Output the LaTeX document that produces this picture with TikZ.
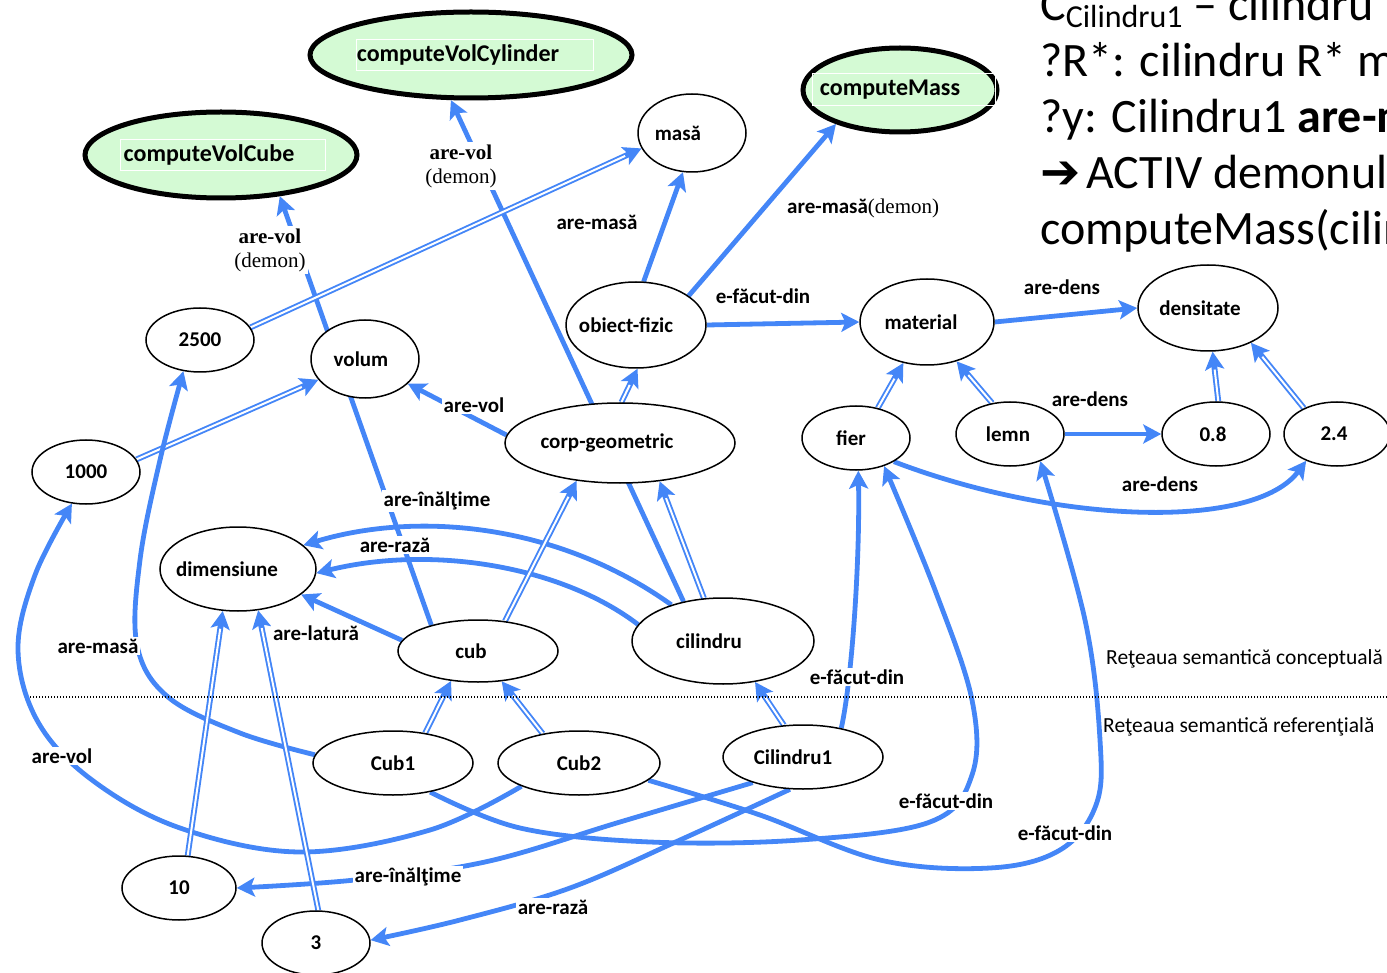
\documentclass[tikz,border=0pt]{standalone}
\usepackage{fontspec}
\setmainfont{Carlito}
\newfontfamily\timesfam{Liberation Serif}
\newfontfamily\dejavu{DejaVu Sans}
\usetikzlibrary{arrows.meta,shapes.geometric}
\definecolor{linkblue}{RGB}{68,134,247}
\definecolor{demongreen}{RGB}{212,250,212}
\pgfdeclarelayer{links}
\pgfsetlayers{links,main}
% text moved left by #1 pt inside its ellipse
\newcommand\txtshift[2]{\makebox[0pt]{\kern-#1pt #2\kern#1pt}}
% is-a link: thick blue stroke with a solid tip, hollowed by a thin white core
\newcommand\isalink[2]{%
  \draw[isaouter] (#1) -- (#2);
  \draw[isainner] (#1) -- (#2);}
\tikzset{
  linktip/.tip={Stealth[length=18pt,width=19pt,inset=4pt]},
  concept/.style={ellipse, draw=black, line width=1.5pt, fill=white, inner sep=0pt,
    font=\fontsize{21}{25}\selectfont\bfseries},
  demon/.style={concept, line width=5pt, fill=demongreen,
    font=\fontsize{24}{28}\selectfont\bfseries},
  rel/.style={draw=linkblue, line width=4.8pt, -{linktip}},
  isaouter/.style={draw=linkblue, line width=5.8pt, -{linktip}},
  isainner/.style={draw=white, line width=2pt, shorten >=18pt},
  lbl/.style={fill=white, inner sep=2pt, font=\fontsize{21}{25}\selectfont\bfseries},
  dlbl/.style={fill=white, inner sep=2pt, align=center,
    font=\fontsize{21}{24}\selectfont\timesfam},
  note/.style={anchor=west, inner sep=0pt, font=\fontsize{21.5}{25}\selectfont},
  query/.style={anchor=base west, inner sep=0pt, font=\fontsize{48}{56}\selectfont},
}
\begin{document}
\begin{tikzpicture}[x=1pt,y=-1pt]
\useasboundingbox (0,0) rectangle (1387,973);

% ---- demon procedures ----
\node[demon, minimum width=322pt, minimum height=86pt] (cvcyl) at (471,55) {\txtshift{13}{computeVolCylinder}};
\node[demon, minimum width=272pt, minimum height=86pt] (cvcube) at (221,155) {\txtshift{12}{computeVolCube}};
\node[demon, minimum width=194pt, minimum height=84pt] (cmass) at (900,90) {\txtshift{10}{computeMass}};
\draw[white, line width=1pt] (356,40) rectangle (593,71);
\draw[white, line width=1pt] (120,140) rectangle (325,171);
\draw[white, line width=1pt] (812,74) rectangle (995,106);

% ---- conceptual network ----
\node[concept, minimum width=108pt, minimum height=78pt] (masa) at (692,133) {\txtshift{14}{masă}};
\node[concept, minimum width=140pt, minimum height=86pt] (obiect) at (636,325) {\txtshift{10}{obiect-fizic}};
\node[concept, minimum width=134pt, minimum height=86pt] (material) at (927,322) {\txtshift{6}{material}};
\node[concept, minimum width=140pt, minimum height=86pt] (dens) at (1208,308) {\txtshift{8}{densitate}};
\node[concept, minimum width=108pt, minimum height=64pt] (n2500) at (200,340) {2500};
\node[concept, minimum width=108pt, minimum height=78pt] (volum) at (365,359) {\txtshift{4}{volum}};
\node[concept, minimum width=230pt, minimum height=80pt] (corp) at (620,443) {\txtshift{13}{corp-geometric}};
\node[concept, minimum width=108pt, minimum height=64pt] (n1000) at (86,472) {1000};
\node[concept, minimum width=108pt, minimum height=64pt] (fier) at (856,438) {\txtshift{5}{fier}};
\node[concept, minimum width=108pt, minimum height=64pt] (lemn) at (1010,434) {\txtshift{2}{lemn}};
\node[concept, minimum width=108pt, minimum height=64pt] (n08) at (1216,434) {\txtshift{3}{0.8}};
\node[concept, minimum width=106pt, minimum height=64pt] (n24) at (1337,434) {\txtshift{3}{2.4}};
\node[concept, minimum width=156pt, minimum height=84pt] (dim) at (238,569) {\txtshift{11}{dimensiune}};
\node[concept, minimum width=160pt, minimum height=62pt] (cub) at (478,651) {\txtshift{7}{cub}};
\node[concept, minimum width=182pt, minimum height=86pt] (cil) at (723,641) {\txtshift{14}{cilindru}};

% ---- referential network ----
\node[concept, minimum width=160pt, minimum height=64pt] (cub1) at (393,763) {Cub1};
\node[concept, minimum width=162pt, minimum height=64pt] (cub2) at (579,763) {Cub2};
\node[concept, minimum width=160pt, minimum height=64pt] (cil1) at (803,757) {\txtshift{10}{Cilindru1}};
\node[concept, minimum width=114pt, minimum height=64pt] (n10) at (179,888) {10};
\node[concept, minimum width=108pt, minimum height=64pt] (n3) at (316,943) {3};

% ---- links ----
\begin{pgfonlayer}{links}
\draw[rel] (cub.151) -- (cvcube.-35);
\draw[rel] (cil.135) -- (cvcyl.-114);
\isalink{n2500.14}{masa.197}
\draw[rel] (obiect.80) -- (masa.-103);
\draw[rel] (obiect.29) -- (cmass.-152);
\draw[rel] (obiect.east) -- (material.west);
\draw[rel] (material.east) -- (dens.west);
\isalink{corp.88}{obiect.-88}
\draw[rel] (corp.176) -- (volum.-30);
\isalink{n1000.14}{volum.204}
\isalink{fier.54}{material.-120}
\isalink{lemn.120}{material.-53}
\draw[rel] (lemn.east) -- (n08.180);
\isalink{n08.86}{dens.-84}
\isalink{n24.142}{dens.-39}
\draw[rel] (fier.-32) .. controls (1060,525) and (1255,530) .. (n24.-139);
\draw[rel] (cil.145) .. controls (560,525) and (420,510) .. (dim.20);
\draw[rel] (cil.169) .. controls (560,565) and (430,545) .. (dim.-3);
\draw[rel] (cub.172) -- (dim.-22);
\isalink{cub.48}{corp.-139}
\isalink{cil.114}{corp.-44}
\isalink{cub1.43}{cub.-132}
\isalink{cub2.141}{cub.-52}
\isalink{cil1.121}{cil.-52}
\draw[rel] (cil1.37) .. controls (852,680) and (860,560) .. (fier.-86);
\draw[rel] plot[smooth, tension=0.6] coordinates {(cub1.-38) (520,828) (650,842) (800,840) (930,822) (972,775) (972,700) (935,590) (fier.-45)};
\draw[rel] plot[smooth, tension=0.6] coordinates {(cub2.-14) (760,815) (880,860) (990,868) (1060,850) (1096,805) (1100,740) (1085,620) (lemn.-42)};
\draw[rel] plot[smooth, tension=0.6] coordinates {(cub1.174) (240,733) (168,697) (137,645) (140,560) (160,460) (n2500.-118)};
\draw[rel] plot[smooth, tension=0.6] coordinates {(cub2.202) (430,830) (300,852) (180,828) (92,780) (38,722) (18,650) (35,575) (n1000.-114)};
\draw[rel] plot[smooth, tension=0.6] coordinates {(cil1.207) (620,822) (485,862) (355,880) (n10.0)};
\draw[rel] plot[smooth, tension=0.6] coordinates {(cil1.248) (680,840) (570,888) (460,920) (n3.3)};
\isalink{n10.75}{dim.-110}
\isalink{n3.86}{dim.-64}
\end{pgfonlayer}

% ---- link labels ----
\node[dlbl] (lvcube) at (270,250) {\textbf{are-vol}\\(demon)};
\node[dlbl] (lvcyl) at (461,166) {\textbf{are-vol}\\(demon)};
\node[lbl] (lmasa) at (597,222) {are-masă};
\node[lbl, anchor=west, inner xsep=10pt] (lmdemon) at (777,208) {are-masă{\timesfam\mdseries(demon)}};
\node[lbl] (lfd1) at (763,296) {e-făcut-din};
\node[lbl] (ld1) at (1062,287) {are-dens};
\node[lbl] (ld2) at (1090,399) {are-dens};
\node[lbl] (ld3) at (1160,484) {are-dens};
\node[lbl] (lvol) at (474,405) {are-vol};
\node[lbl] (lh1) at (437,501) {are-înălţime};
\node[lbl] (lr1) at (395,545) {are-rază};
\node[lbl] (llat) at (316,633) {are-latură};
\node[lbl] (lm2) at (98,646) {are-masă};
\node[lbl] (lv2) at (62,756) {are-vol};
\node[lbl] (lfd2) at (857,677) {e-făcut-din};
\node[lbl] (lfd3) at (946,801) {e-făcut-din};
\node[lbl] (lfd4) at (1065,833) {e-făcut-din};
\node[lbl] (lh2) at (408,877) {are-înălţime};
\node[lbl] (lr2) at (553,907) {are-rază};

% ---- separator between the two networks ----
\coordinate (sepL) at (30,697);
\coordinate (sepR) at (1387,697);
\draw[black, line width=1.4pt, dash pattern=on 1.4pt off 1.6pt] (sepL) -- (sepR);
\node[note] (conc) at (1106,659) {Reţeaua semantică conceptuală};
\node[note] (refn) at (1103,727) {Reţeaua semantică referenţială};

% ---- query text ----
\node[query] (q0) at (1040,21) {C\raisebox{-7pt}{\fontsize{32}{32}\selectfont Cilindru1} – cilindru};
\node[query] (q1) at (1040,77) {?R*: cilindru R* m};
\node[query] (q2) at (1040,133) {?y: Cilindru1 \textbf{are-m}};
\node[query] (q3) at (1040,189) {{\dejavu\bfseries ➔}\kern6pt ACTIV demonul};
\node[query] (q4) at (1040,245) {computeMass(cilin};
\end{tikzpicture}
\end{document}
